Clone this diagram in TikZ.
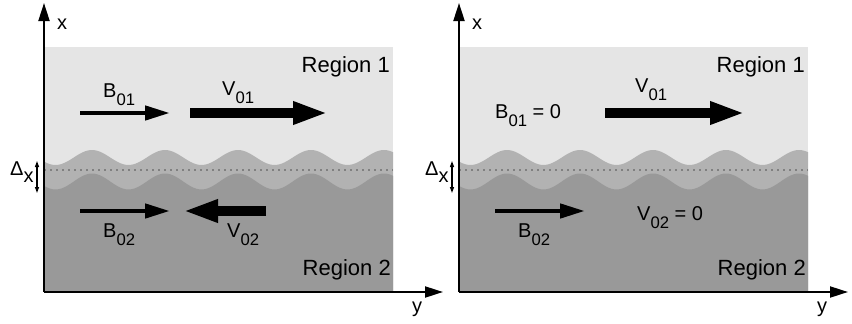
\documentclass[tikz,border=0pt]{standalone}
\usepackage{fontspec}
\setmainfont{Liberation Sans}
\usetikzlibrary{arrows.meta, positioning}
\definecolor{upperfill}{gray}{0.9}
\definecolor{bandfill}{gray}{0.7}
\definecolor{lowerfill}{gray}{0.6}
\definecolor{dotgray}{gray}{0.5}
\newcommand{\idx}[1]{\raisebox{-8pt}{\fontsize{16.7}{18}\selectfont #1}}
\tikzset{
  axis/.style={line width=2pt, -{Triangle[length=18pt, width=11pt]}}, % coordinate axes
  thinvec/.style={line width=4.5pt, -{Triangle[length=25pt, width=14pt]}}, % field B
  thickvec/.style={line width=9.5pt, -{Triangle[length=35pt, width=21pt]}}, % flow V
  gap/.style={line width=1.2pt, {Triangle[length=6pt, width=4pt]}-{Triangle[length=6pt, width=4pt]}},
  midline/.style={dotgray, line width=1.5pt, dash pattern=on 1.5pt off 4.5pt},
  lbl/.style={inner sep=0pt, anchor=base west, font=\fontsize{20}{24}\selectfont},
  region/.style={inner sep=0pt, anchor=base east, font=\fontsize{22}{26}\selectfont},
}
\begin{document}
\begin{tikzpicture}[x=1pt, y=-1pt]
  \useasboundingbox (0,0) rectangle (852,324);
  % both panels: layers, interface and axes
  \foreach \p/\o/\e in {l/0/443, r/415/848} {
    \pgfmathsetmacro\xa{44+\o}
    \pgfmathsetmacro\xb{393+\o}
    \fill[upperfill] (\xa,47) rectangle (\xb,292);
    \fill[bandfill] plot[domain=\xa:\xb, samples=120] (\x, {157.5-7.5*cos((\x-92-\o)/73*360)})
      -- (\xb,292) -- (\xa,292) -- cycle;
    \fill[lowerfill] plot[domain=\xa:\xb, samples=120] (\x, {181.5-8*cos((\x-92-\o)/73*360)})
      -- (\xb,292) -- (\xa,292) -- cycle;
    \coordinate (\p-dl) at (\xa,170);
    \coordinate (\p-dr) at (\xb,170);
    \draw[midline] (\p-dl) -- (\p-dr);
    \coordinate (\p-o) at (\xa,292);
    \coordinate (\p-xt) at (\xa,3);
    \coordinate (\p-yt) at (\e,292);
    \draw[axis] (\p-o) -- (\p-xt);
    \draw[axis] (\p-o) -- (\p-yt);
    \node[lbl] (\p-x) at (57+\o,29) {x};
    \node[lbl] (\p-y) at (\e-31,312) {y};
    \coordinate (\p-gt) at (\xa-7,161);
    \coordinate (\p-gb) at (\xa-7,193);
    \draw[gap] (\p-gt) -- (\p-gb);
    \node[lbl] (\p-delta) at (\xa-34,175) {Δ\raisebox{-7pt}{x}};
    \node[region] (\p-reg1) at (\xb-3,72) {Region 1};
    \node[region] (\p-reg2) at (\xb-2,275) {Region 2};
  }

  % left panel
  \coordinate (b01s) at (80,113);
  \coordinate (b01e) at (170,113);
  \coordinate (v01s) at (190,113);
  \coordinate (v01e) at (328,113);
  \coordinate (b02s) at (80,211);
  \coordinate (b02e) at (170,211);
  \coordinate (v02s) at (266,211);
  \coordinate (v02e) at (183,211);
  \draw[thinvec] (b01s) -- (b01e);
  \draw[thickvec] (v01s) -- (v01e);
  \draw[thinvec] (b02s) -- (b02e);
  \draw[thickvec] (v02s) -- (v02e);
  \node[lbl] (b01) at (103,97) {B\idx{01}};
  \node[lbl] (v01) at (222,95) {V\idx{01}};
  \node[lbl] (b02) at (103,237) {B\idx{02}};
  \node[lbl] (v02) at (227,237) {V\idx{02}};

  % right panel
  \coordinate (rv01s) at (605,113);
  \coordinate (rv01e) at (745,113);
  \coordinate (rb02s) at (495,211);
  \coordinate (rb02e) at (585,211);
  \draw[thickvec] (rv01s) -- (rv01e);
  \draw[thinvec] (rb02s) -- (rb02e);
  \node[lbl] (rb01) at (495,118) {B\idx{01} = 0};
  \node[lbl] (rv01) at (635,92) {V\idx{01}};
  \node[lbl] (rb02) at (518,237) {B\idx{02}};
  \node[lbl] (rv02) at (637,220) {V\idx{02} = 0};
\end{tikzpicture}
\end{document}
